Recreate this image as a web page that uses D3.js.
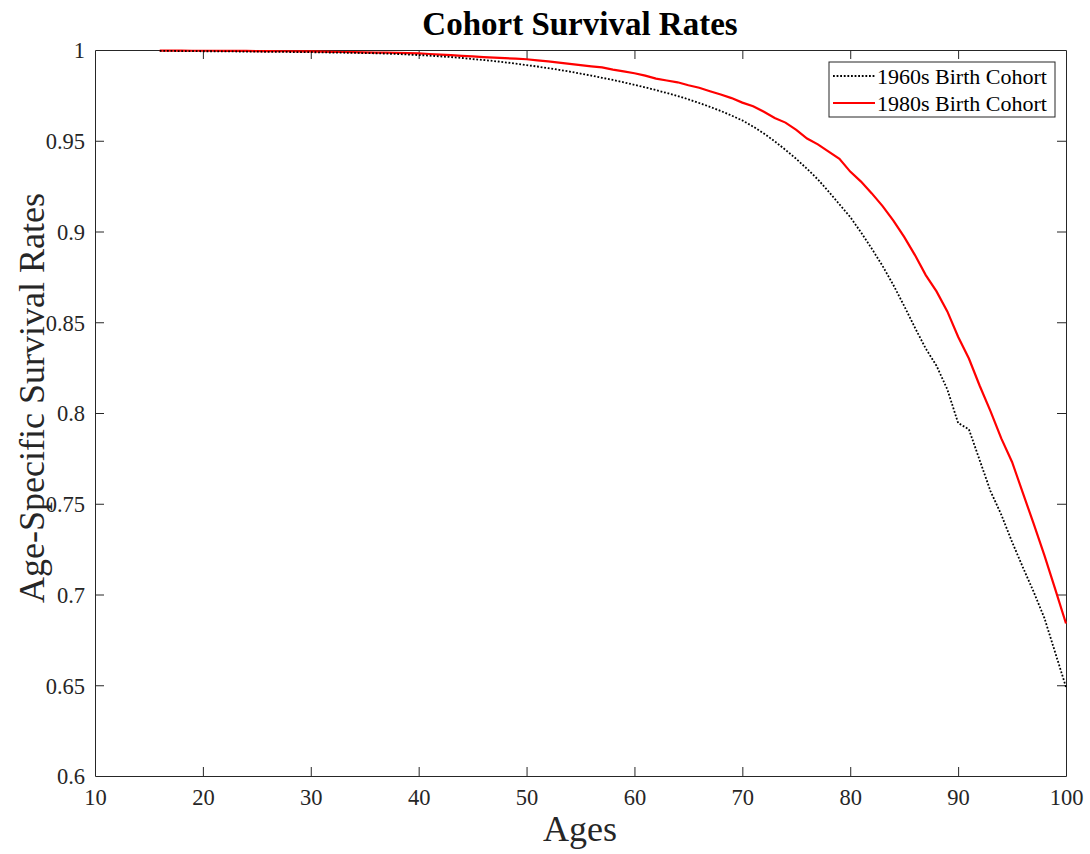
<!DOCTYPE html>
<html>
<head>
<meta charset="utf-8">
<script src="https://cdn.jsdelivr.net/npm/d3@7"></script>
<style>
  html, body { margin: 0; padding: 0; background: #fff; }
  svg { display: block; }
  text { font-family: "Liberation Serif", "Times New Roman", serif; }
</style>
</head>
<body>
<svg id="chart" width="1090" height="854"></svg>
<script>
// ---------- data ----------
const ages = d3.range(16, 101); // 16..100
const cohort1960 = [
  0.9995, 0.9995, 0.9994, 0.9994, 0.9993, 0.9993, 0.9992, 0.9992, 0.9991, 0.9991,
  0.9990, 0.9990, 0.9989, 0.9988, 0.9988, 0.9987, 0.9986, 0.9985, 0.9984, 0.9983,
  0.9982, 0.9980, 0.9978, 0.9975, 0.9972, 0.9969, 0.9965, 0.9961, 0.9956, 0.9950,
  0.9945, 0.9939, 0.9932, 0.9925, 0.9917, 0.9909, 0.9900, 0.9891, 0.9881, 0.9870,
  0.9859, 0.9847, 0.9835, 0.9822, 0.9808, 0.9794, 0.9779, 0.9763, 0.9747, 0.9728,
  0.9708, 0.9687, 0.9664, 0.9639, 0.9612, 0.9578, 0.9540, 0.9497, 0.9450, 0.9400,
  0.9345, 0.9287, 0.9220, 0.9150, 0.9080, 0.8995, 0.8905, 0.8810, 0.8705, 0.8590,
  0.8470, 0.8355, 0.8260, 0.8130, 0.7945, 0.7910, 0.7740, 0.7570, 0.7440, 0.7290,
  0.7150, 0.7015, 0.6870, 0.6680, 0.6490
];
const cohort1980 = [
  0.9997, 0.9997, 0.9997, 0.9996, 0.9996, 0.9996, 0.9995, 0.9995, 0.9995, 0.9994,
  0.9994, 0.9993, 0.9993, 0.9992, 0.9992, 0.9991, 0.9990, 0.9989, 0.9988, 0.9987,
  0.9986, 0.9985, 0.9984, 0.9983, 0.9981, 0.9978, 0.9975, 0.9972, 0.9968, 0.9965,
  0.9961, 0.9958, 0.9955, 0.9952, 0.9949, 0.9943, 0.9937, 0.9930, 0.9924, 0.9917,
  0.9910, 0.9904, 0.9892, 0.9882, 0.9872, 0.9859, 0.9842, 0.9832, 0.9822, 0.9806,
  0.9792, 0.9773, 0.9755, 0.9735, 0.9710, 0.9690, 0.9660, 0.9625, 0.9600, 0.9560,
  0.9512, 0.9480, 0.9440, 0.9400, 0.9330, 0.9275, 0.9210, 0.9140, 0.9060, 0.8970,
  0.8870, 0.8760, 0.8670, 0.8560, 0.8420, 0.8300, 0.8150, 0.8010, 0.7860, 0.7730,
  0.7560, 0.7390, 0.7215, 0.7030, 0.6840
];
const seriesNames = ["1960s Birth Cohort", "1980s Birth Cohort"];
const xTicks = [10, 20, 30, 40, 50, 60, 70, 80, 90, 100];
const yTicks = [0.6, 0.65, 0.7, 0.75, 0.8, 0.85, 0.9, 0.95, 1];
const yTickLabels = ["0.6", "0.65", "0.7", "0.75", "0.8", "0.85", "0.9", "0.95", "1"];
const titleText = "Cohort Survival Rates";
const xLabel = "Ages";
const yLabel = "Age-Specific Survival Rates";

// ---------- layout ----------
const svg = d3.select("#chart");
const L = 95, R = 1066, T = 50, B = 776;
const axisColor = "#262626";
const x = d3.scaleLinear().domain([10, 100]).range([L, R]);
const y = d3.scaleLinear().domain([0.6, 1]).range([B, T]);

svg.append("rect").attr("x", L).attr("y", T).attr("width", R - L).attr("height", B - T).attr("fill", "#fff");

// axes with inward ticks
const tickLen = 9;
const fmtY = d => yTickLabels[yTicks.indexOf(d)];

const gBottom = svg.append("g").attr("transform", `translate(0,${B})`)
  .call(d3.axisBottom(x).tickValues(xTicks).tickSizeInner(-tickLen).tickSizeOuter(0).tickPadding(13).tickFormat(d3.format("d")));
const gTop = svg.append("g").attr("transform", `translate(0,${T})`)
  .call(d3.axisTop(x).tickValues(xTicks).tickSizeInner(-tickLen).tickSizeOuter(0).tickFormat(""));
const gLeft = svg.append("g").attr("transform", `translate(${L},0)`)
  .call(d3.axisLeft(y).tickValues(yTicks).tickSizeInner(-tickLen).tickSizeOuter(0).tickPadding(10).tickFormat(fmtY));
const gRight = svg.append("g").attr("transform", `translate(${R},0)`)
  .call(d3.axisRight(y).tickValues(yTicks).tickSizeInner(-tickLen).tickSizeOuter(0).tickFormat(""));

[gBottom, gTop, gLeft, gRight].forEach(g => {
  g.select(".domain").attr("stroke", axisColor).attr("stroke-width", 1);
  g.selectAll(".tick line").attr("stroke", axisColor).attr("stroke-width", 1);
  g.selectAll(".tick text").attr("fill", axisColor).style("font-size", "22.5px")
    .style("font-family", "'Liberation Serif', 'Times New Roman', serif");
});
gBottom.selectAll(".tick line").filter(d => d === 10 || d === 100).remove();
gTop.selectAll(".tick line").filter(d => d === 10 || d === 100).remove();
gLeft.selectAll(".tick line").filter(d => d === 0.6 || d === 1).remove();
gRight.selectAll(".tick line").filter(d => d === 0.6 || d === 1).remove();
gLeft.selectAll(".tick text").attr("dy", "0.35em");

// ---------- lines ----------
const line = d3.line().x((d, i) => x(ages[i])).y(d => y(d));

svg.append("path").datum(cohort1980)
  .attr("fill", "none").attr("stroke", "#ff0000").attr("stroke-width", 2.2)
  .attr("d", line);
svg.append("path").datum(cohort1960)
  .attr("fill", "none").attr("stroke", "#000").attr("stroke-width", 1.8)
  .attr("stroke-dasharray", "1.8,1.8")
  .attr("d", line);

// ---------- legend ----------
const lg = svg.append("g");
const lx = 829, ly = 62, lw = 226, lh = 55;
lg.append("rect").attr("x", lx).attr("y", ly).attr("width", lw).attr("height", lh)
  .attr("fill", "#fff").attr("stroke", axisColor).attr("stroke-width", 1);
const legendStyles = [
  { stroke: "#000", width: 1.8, dash: "1.8,1.8" },
  { stroke: "#ff0000", width: 2.2, dash: null }
];
seriesNames.forEach((name, i) => {
  const cy = ly + 14 + i * 27;
  const ln = lg.append("line").attr("x1", lx + 4).attr("x2", lx + 46).attr("y1", cy).attr("y2", cy)
    .attr("stroke", legendStyles[i].stroke).attr("stroke-width", legendStyles[i].width);
  if (legendStyles[i].dash) ln.attr("stroke-dasharray", legendStyles[i].dash);
  lg.append("text").attr("x", lx + 48).attr("y", cy).attr("dy", "0.35em")
    .attr("fill", "#000").style("font-size", "22px").text(name);
});

// ---------- titles ----------
svg.append("text").attr("x", 580).attr("y", 35).attr("text-anchor", "middle")
  .style("font-size", "33px").style("font-weight", "bold").attr("fill", "#000").text(titleText);
svg.append("text").attr("x", 580).attr("y", 841).attr("text-anchor", "middle")
  .style("font-size", "36px").attr("fill", axisColor).text(xLabel);
svg.append("text").attr("transform", `translate(44,398) rotate(-90)`)
  .attr("text-anchor", "middle").style("font-size", "36px").attr("fill", axisColor).text(yLabel);
</script>
</body>
</html>
